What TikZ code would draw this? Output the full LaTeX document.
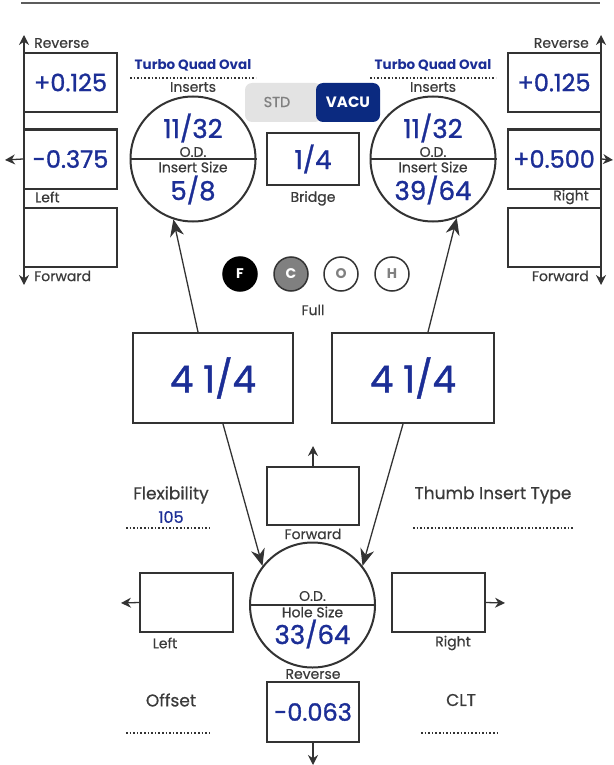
\documentclass[tikz,border=0pt]{standalone}
\usepackage{fontspec}
\setmainfont{Poppins}
\newfontfamily\medfont{Poppins}[FakeBold=1.2]
\newfontfamily\labfont{Poppins}[FakeBold=0.6]
\usetikzlibrary{positioning,arrows.meta}
\definecolor{valblue}{HTML}{1C2E96}
\definecolor{labgray}{HTML}{3A3A3A}
\definecolor{edge}{HTML}{333333}
\definecolor{vacu}{HTML}{0B2A80}
\definecolor{stdfill}{HTML}{E3E3E3}
\newcommand{\fsz}[1]{\fontsize{#1}{#1}\selectfont}

\begin{document}
\begin{tikzpicture}[x=1pt,y=-1pt,
  valbox/.style={draw=edge,line width=2pt,minimum width=93pt,minimum height=59pt,inner sep=0pt,text=valblue,font=\medfont\fsz{24}},
  bigbox/.style={draw=edge,line width=2pt,minimum width=160pt,minimum height=90pt,inner sep=0pt,text=valblue,font=\medfont\fsz{37}},
  disc/.style={circle,draw=edge,line width=2pt,minimum size=125pt,inner sep=0pt},
  num/.style={text=valblue,font=\medfont\fsz{26},inner sep=0pt},
  lab/.style={text=labgray,font=\labfont\fsz{14},inner sep=0pt},
  head/.style={text=labgray,font=\labfont\fsz{17},inner sep=0pt},
  dots/.style={dotted,line width=1.6pt,edge},
  bigarr/.style={line width=1.3pt,edge,-{Stealth[length=17pt,width=14pt]}},
  smallarr/.style={line width=1.3pt,edge,-{Stealth[length=10pt,width=10pt]}},
  pick/.style={circle,line width=1.5pt,minimum size=34pt,inner sep=0pt,font=\fsz{14}\bfseries}]
\useasboundingbox (0,0) rectangle (613,765);
\draw[line width=2.5pt,edge!80] (21,3)--(600,3);

% left column
\node[valbox] (lrev) at (70.5,82.5) {+0.125};
\node[valbox] (lmid) at (70.5,159) {-0.375};
\node[valbox] (lfwd) at (70.5,237) {};
\coordinate (ltop) at (24,35);
\coordinate (lbot) at (24,285);
\coordinate (lout) at (5,160);
\draw[line width=1.3pt,edge,{Stealth[length=10pt,width=10pt]}-{Stealth[length=10pt,width=10pt]}] (ltop)--(lbot);
\draw[smallarr] (lmid.west)--(lout);
\node[lab,anchor=west] (lrevl) at (34,43) {Reverse};
\node[lab,anchor=west] (lleftl) at (35,197) {Left};
\node[lab,anchor=west] (lfwdl) at (34,276) {Forward};

% right column
\node[valbox] (rrev) at (554,82.5) {+0.125};
\node[valbox] (rmid) at (554,159) {+0.500};
\node[valbox] (rfwd) at (554,237) {};
\coordinate (rtop) at (601,35);
\coordinate (rbot) at (601,285);
\coordinate (rout) at (613,160);
\draw[line width=1.3pt,edge,{Stealth[length=10pt,width=10pt]}-{Stealth[length=10pt,width=10pt]}] (rtop)--(rbot);
\draw[smallarr] (rmid.east)--(rout);
\node[lab,anchor=east] (rrevl) at (589,43) {Reverse};
\node[lab,anchor=east] (rrightl) at (589,197) {Right};
\node[lab,anchor=east] (rfwdl) at (589,276) {Forward};

% insert discs
\foreach \nm/\cx/\low in {lc/193/5\slash 8,rc/433/39\slash 64}{
  \node[disc] (\nm) at (\cx,159) {};
  \draw[line width=2pt,edge] (\nm.west)--(\nm.east);
  \node[text=valblue,font=\fsz{13.5}\bfseries] at (\cx,65) {Turbo Quad Oval};
  \draw[dots] (\cx-63,78)--(\cx+63,78);
  \node[lab] at (\cx,87) {Inserts};
  \node[num] at (\cx,128) {11/32};
  \node[lab] at (\cx,152) {O.D.};
  \node[lab] at (\cx,167) {Insert Size};
  \node[num] at (\cx,190) {\low};
}

% STD / VACU
\fill[stdfill,rounded corners=7pt] (245,83) rectangle (322,122);
\fill[vacu,rounded corners=7pt] (316,83) rectangle (380,122);
\node[text=gray,font=\labfont\fsz{14.5}] (std) at (277,102) {STD};
\node[text=white,font=\fsz{15}\bfseries] (vac) at (348,102) {VACU};

% bridge
\node[valbox,minimum width=92pt,minimum height=52pt,font=\medfont\fsz{26}] (bridge) at (313,159) {1/4};
\node[lab,below=5pt of bridge] (bridgel) {Bridge};

% F C O H
\node[pick,fill=black,draw=black,text=white] (pf) at (240,274) {F};
\node[pick,fill=gray,draw=edge,text=white] (pc) at (291,274) {C};
\node[pick,fill=white,draw=edge,text=gray] (po) at (341,274) {O};
\node[pick,fill=white,draw=edge,text=gray] (ph) at (392,274) {H};
\node[lab] (full) at (313,310) {Full};

% spans
\node[bigbox] (lbig) at (213,378) {4 1/4};
\node[bigbox,minimum width=162pt] (rbig) at (413,378) {4 1/4};
\draw[bigarr] ([xshift=-15pt]lbig.north)--(lc.252);
\draw[bigarr] ([xshift=15pt]rbig.north)--(rc.292);

% thumb
\node[disc] (bc) at (312.5,605) {};
\draw[line width=2pt,edge] (bc.west)--(bc.east);
\node[lab] (bod) at (312.5,596) {O.D.};
\node[lab] (bhole) at (312.5,612) {Hole Size};
\node[num] (bsize) at (312.5,634) {33/64};
\draw[bigarr] ([xshift=10pt]lbig.south)--(bc.142);
\draw[bigarr] ([xshift=-10pt]rbig.south)--(bc.38);

\node[valbox,minimum width=92pt,minimum height=58pt] (tfwd) at (313,496) {};
\node[valbox] (tleft) at (186.5,602.5) {};
\node[valbox] (tright) at (438.5,602.5) {};
\node[valbox,minimum width=92pt,minimum height=60pt] (trev) at (313,712) {-0.063};
\coordinate (tup) at (313,446);
\coordinate (tdown) at (313,765);
\coordinate (tlout) at (121,603);
\coordinate (trout) at (505,603);
\draw[smallarr] (tfwd.north)--(tup);
\draw[smallarr] (trev.south)--(tdown);
\draw[smallarr] (tleft.west)--(tlout);
\draw[smallarr] (tright.east)--(trout);
\node[lab] (tfwdl) at (313,534) {Forward};
\node[lab] (tleftl) at (165,643) {Left};
\node[lab] (trightl) at (453,643) {Right};
\node[lab] (trevl) at (313,674) {Reverse};

% side fields
\node[head] (flex) at (171,495) {Flexibility};
\node[text=valblue,font=\labfont\fsz{16},inner sep=0pt] (flexv) at (171,517) {105};
\draw[dots] (126,528)--(212,528);
\node[head] (thumb) at (493,495) {Thumb Insert Type};
\draw[dots] (413,528)--(573,528);
\node[head] (offset) at (171,700) {Offset};
\draw[dots] (126,733)--(212,733);
\node[head] (clt) at (461,700) {CLT};
\draw[dots] (421,733)--(500,733);
\end{tikzpicture}
\end{document}
